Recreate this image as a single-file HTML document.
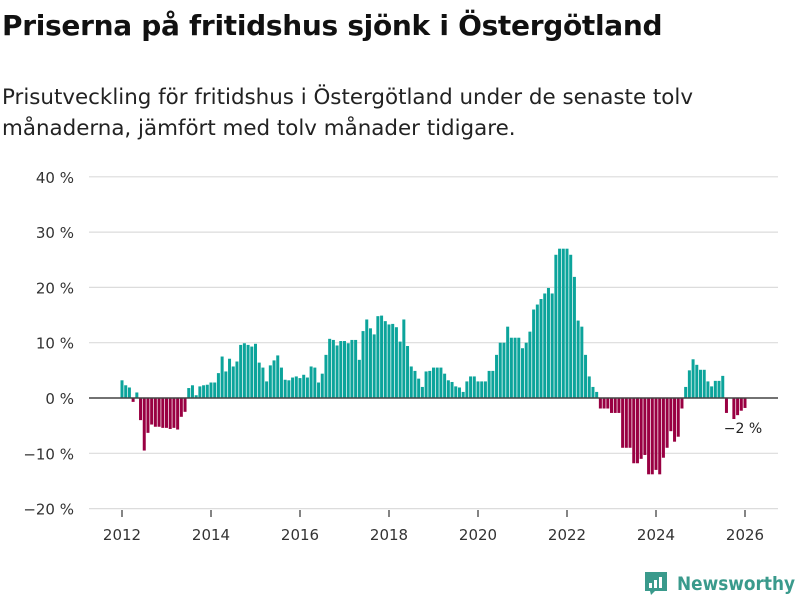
<!DOCTYPE html>
<html><head><meta charset="utf-8"><style>
body{margin:0;background:#fff;font-family:"DejaVu Sans","Liberation Sans",sans-serif;}
#wrap{position:relative;width:800px;height:600px;overflow:hidden;}
h1{position:absolute;left:2px;top:9px;margin:0;font-size:28px;font-weight:bold;color:#111;letter-spacing:-0.3px;}
p.sub{position:absolute;left:2px;top:82px;margin:0;font-size:21.4px;line-height:31px;color:#222;width:712px;}
</style></head><body>
<div id="wrap">
<h1>Priserna på fritidshus sjönk i Östergötland</h1>
<p class="sub">Prisutveckling för fritidshus i Östergötland under de senaste tolv månaderna, jämfört med tolv månader tidigare.</p>
<svg id="chart" width="800" height="600" style="position:absolute;left:0;top:0"></svg>
</div>
<script>
const yTicks=[40,30,20,10,0,-10,-20];
const yTickLabels=["40 %","30 %","20 %","10 %","0 %","−10 %","−20 %"];
const xTicks=[2012,2014,2016,2018,2020,2022,2024,2026];
const startYear=2012;
const values=[3.2,2.3,1.9,-0.7,1.0,-4.0,-9.5,-6.3,-4.8,-5.2,-5.2,-5.4,-5.4,-5.6,-5.4,-5.7,-3.4,-2.5,
1.8,2.3,0.5,2.1,2.3,2.4,2.8,2.8,4.5,7.5,4.8,7.1,5.7,6.6,9.6,9.9,9.6,9.3,9.8,6.4,5.5,3.0,5.9,6.8,7.7,5.5,
3.3,3.2,3.7,3.9,3.6,4.2,3.7,5.7,5.5,2.8,4.4,7.8,10.7,10.5,9.5,10.3,10.3,9.9,10.5,10.5,6.9,12.1,14.2,12.6,11.5,14.8,14.9,13.9,13.3,13.4,12.8,10.2,14.2,9.4,5.7,4.9,3.5,2.0,4.8,4.9,5.5,5.5,5.5,4.4,3.2,2.9,2.1,1.9,1.1,3.0,3.9,
3.9,3.0,3.0,3.0,4.9,4.9,7.8,10.0,10.0,12.9,10.9,10.9,10.9,9.0,10.0,12.0,16.0,16.9,17.9,18.9,19.9,18.9,25.9,27.0,27.0,27.0,25.9,21.9,14.0,12.9,7.8,3.9,2.0,1.1,
-1.9,-1.9,-1.9,-2.7,-2.7,-2.7,-9.0,-9.0,-9.0,-11.8,-11.8,-11.0,-10.3,-13.8,-13.8,-13.0,-13.8,-10.8,-9.0,-6.0,-7.9,-7.0,-1.9,
2.0,5.0,7.0,6.0,5.1,5.1,3.0,2.1,3.1,3.1,4.0,-2.7,null,-3.8,-3.1,-2.3,-1.8];
const lastLabel="−2 %";
const NS="http://www.w3.org/2000/svg";
const svg=document.getElementById('chart');
const y0=398, pxPer=5.53, xStart=122, pxYear=44.5;
function yS(v){return y0-v*pxPer;}
function xS(monthIdx){return xStart+monthIdx*pxYear/12;}
function mk(t,a,p){const e=document.createElementNS(NS,t);for(const k in a)e.setAttribute(k,a[k]);(p||svg).appendChild(e);return e;}
yTicks.forEach((v,i)=>{
  if(v!==0){const g=mk('line',{x1:89,x2:778,y1:yS(v),y2:yS(v),stroke:'#dcdcdc','stroke-width':1.2});
  
  }
  const t=mk('text',{x:74,y:yS(v)+6,'text-anchor':'end','font-size':15,fill:'#333','font-family':'DejaVu Sans, Liberation Sans, sans-serif'});
  t.textContent=yTickLabels[i];
  
  
});
values.forEach((v,i)=>{
  if(v===null)return;
  const x=xS(i);
  const r=mk('rect',{x:x-1.5,y:Math.min(yS(v),y0),width:3,height:Math.abs(yS(v)-y0),fill:v>=0?'#0ca49b':'#990042'});
  
  
});
const z=mk('line',{x1:89,x2:778,y1:y0,y2:y0,stroke:'#444','stroke-width':1.6});


xTicks.forEach(yr=>{
  const x=xS((yr-startYear)*12);
  const tk=mk('line',{x1:x,x2:x,y1:510,y2:517,stroke:'#333','stroke-width':1.2});
  
  
  const t=mk('text',{x:x,y:540,'text-anchor':'middle','font-size':15,fill:'#333','font-family':'DejaVu Sans, Liberation Sans, sans-serif'});
  t.textContent=yr;
  
  
});
const li=values.length-1;
const lb=mk('text',{x:xS(li)-2,y:433,'text-anchor':'middle','font-size':14,fill:'#222','font-family':'DejaVu Sans, Liberation Sans, sans-serif'});
lb.textContent=lastLabel;


const lg=mk('g',{});


mk('path',{d:'M645 572 h22 v19 h-12 l-4 4 l-1 -4 h-5 z',fill:'#3a9a8c'},lg);
mk('rect',{x:649,y:583,width:3,height:5,fill:'#fff'},lg);
mk('rect',{x:654,y:580,width:3,height:8,fill:'#fff'},lg);
mk('rect',{x:659,y:577,width:3,height:11,fill:'#fff'},lg);
const lt=mk('text',{x:677,y:590,'font-size':19,'font-weight':'bold',fill:'#3a9a8c','font-family':'DejaVu Sans, Liberation Sans, sans-serif',textLength:118,lengthAdjust:'spacingAndGlyphs'},lg);
lt.textContent='Newsworthy';
</script>
</body></html>
